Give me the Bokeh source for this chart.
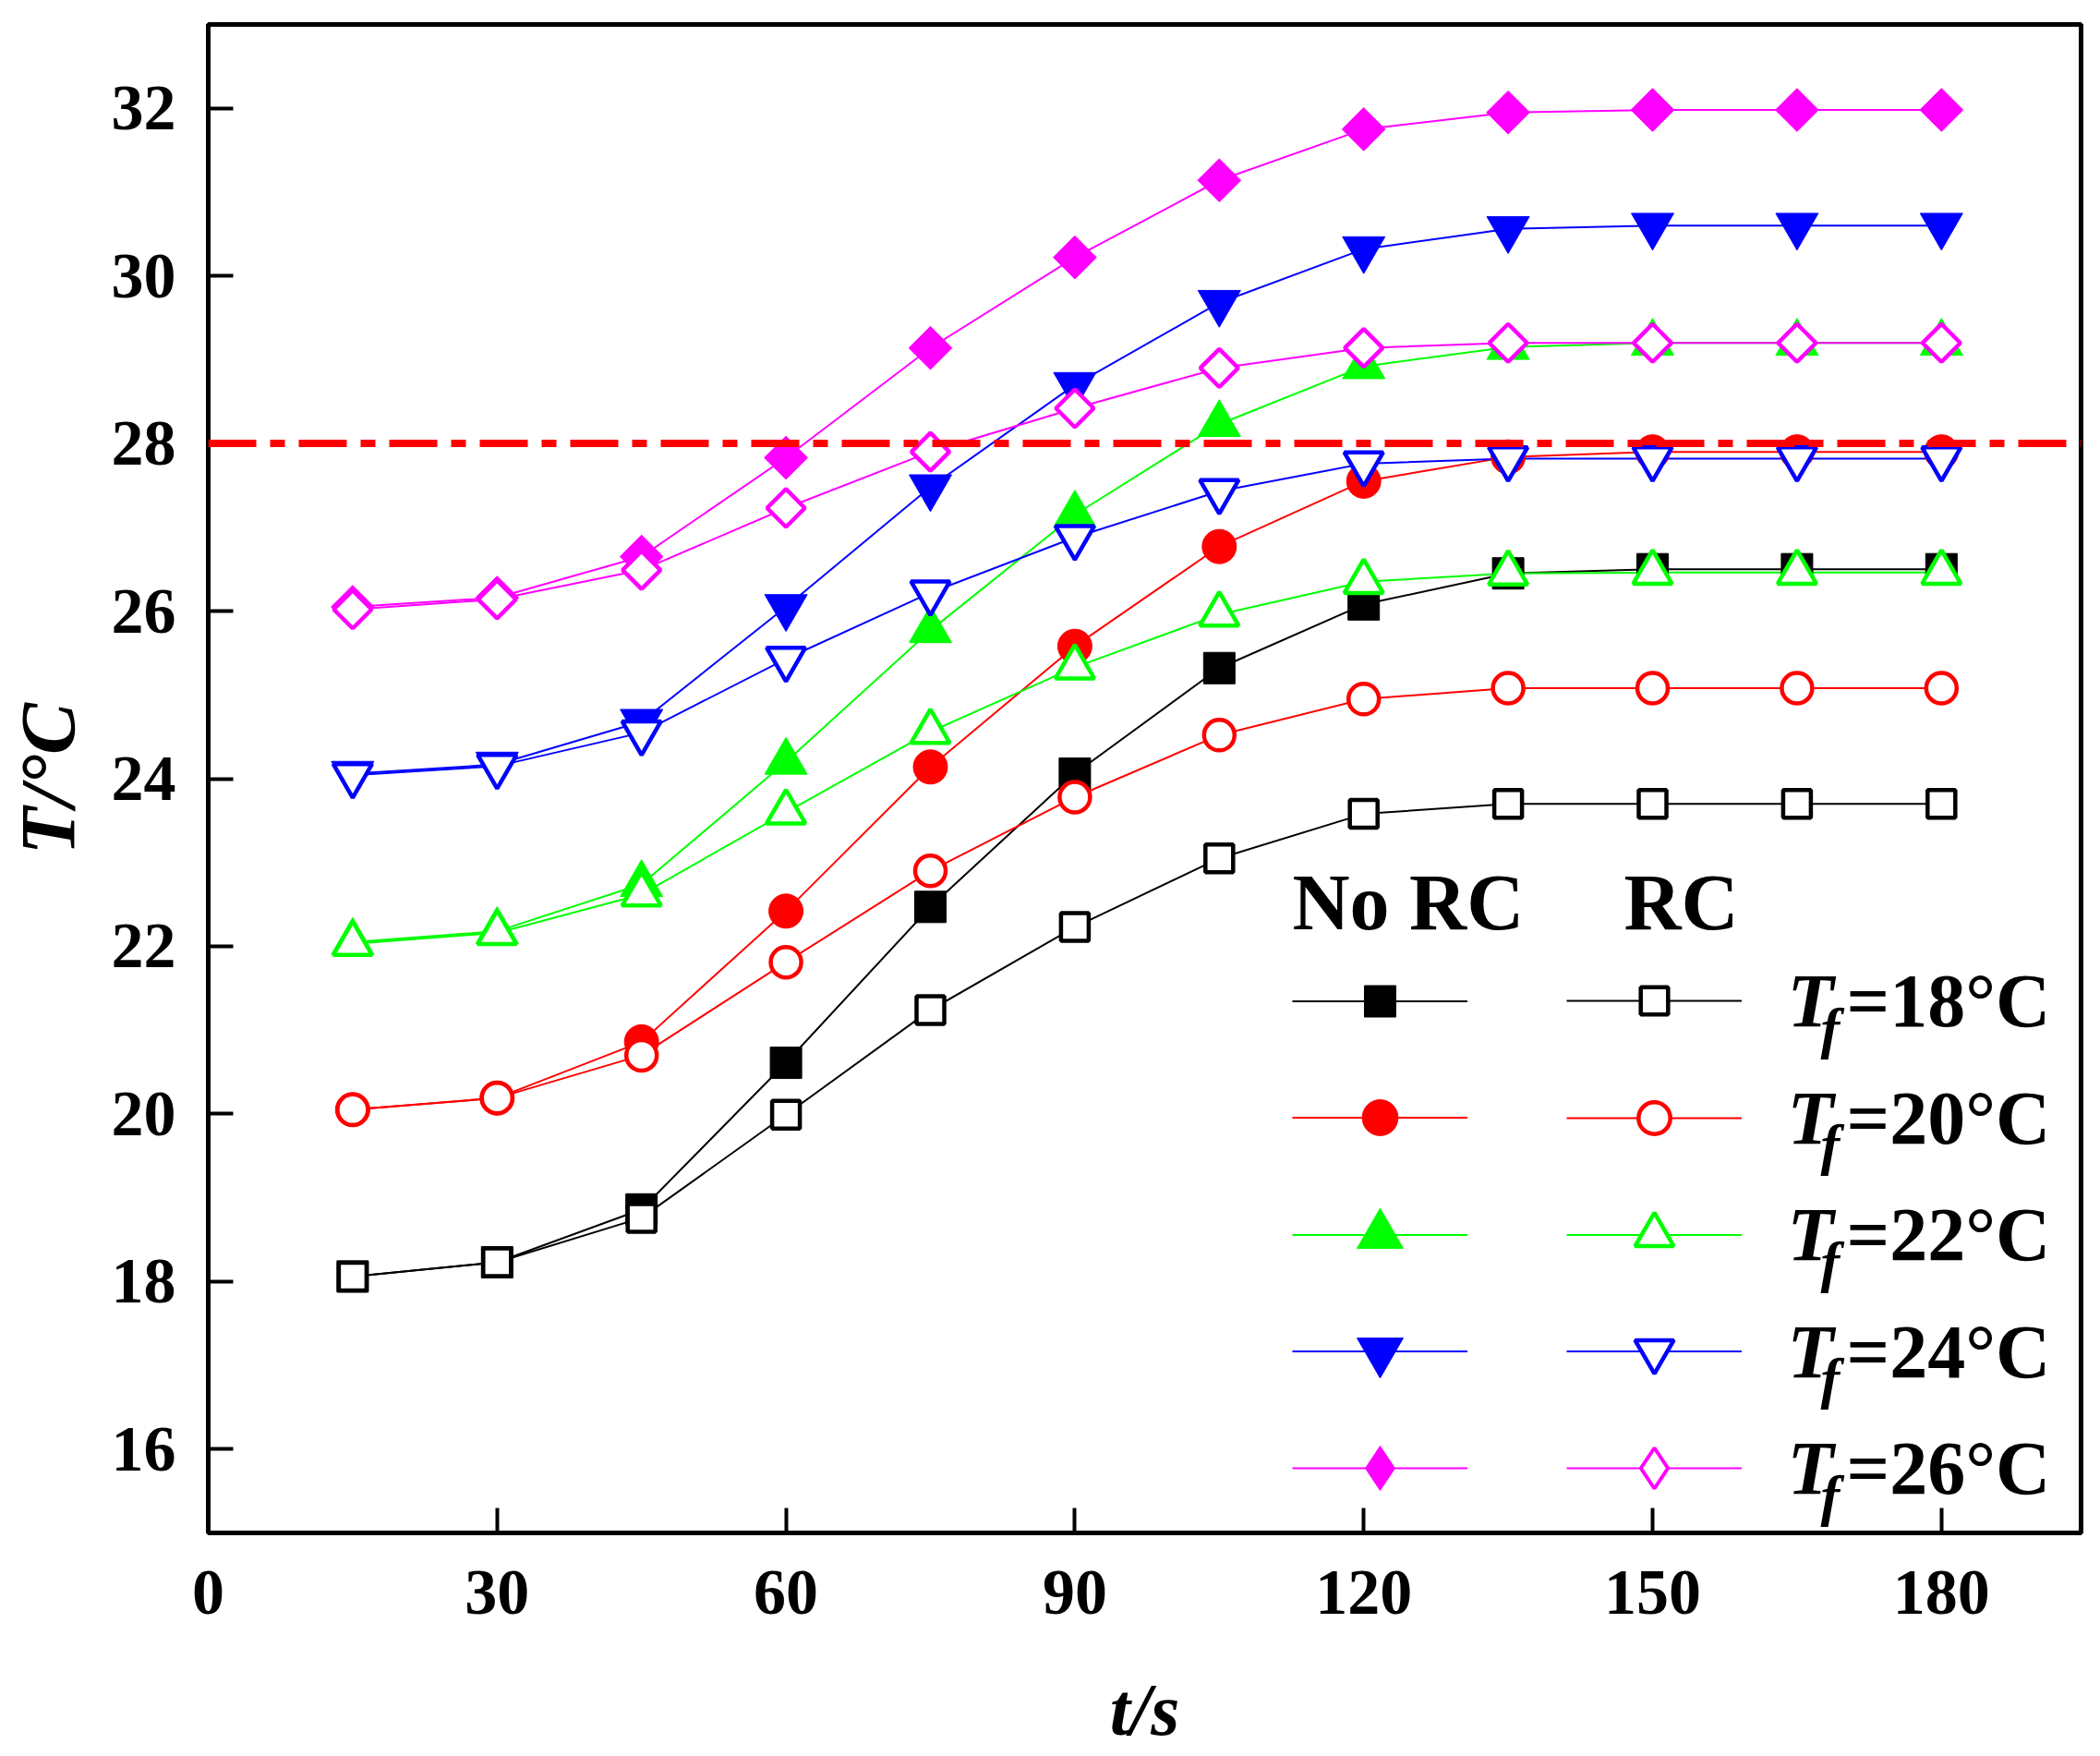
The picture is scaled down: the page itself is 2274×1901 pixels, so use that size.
import math
from bokeh.plotting import figure
from bokeh.models import Span, Label, Legend, LegendItem, FixedTicker, Range1d
from bokeh.core.properties import value
from bokeh.embed import file_html
from bokeh.resources import INLINE

# ---------------- data ----------------
t = [15, 30, 45, 60, 75, 90, 105, 120, 135, 150, 165, 180]
no_rc_18 = [18.06, 18.23, 18.86, 20.61, 22.47, 24.06, 25.32, 26.08, 26.45, 26.5, 26.5, 26.5]
rc_18 = [18.06, 18.23, 18.76, 19.99, 21.24, 22.23, 23.05, 23.58, 23.7, 23.7, 23.7, 23.7]
no_rc_20 = [20.05, 20.19, 20.86, 22.42, 24.14, 25.58, 26.77, 27.55, 27.84, 27.9, 27.9, 27.9]
rc_20 = [20.05, 20.19, 20.7, 21.81, 22.9, 23.78, 24.52, 24.95, 25.08, 25.08, 25.08, 25.08]
no_rc_22 = [22.05, 22.18, 22.74, 24.2, 25.77, 27.15, 28.23, 28.92, 29.15, 29.2, 29.2, 29.2]
rc_22 = [22.03, 22.16, 22.62, 23.6, 24.56, 25.33, 25.96, 26.35, 26.45, 26.46, 26.46, 26.46]
no_rc_24 = [24.06, 24.17, 24.68, 26.05, 27.48, 28.7, 29.68, 30.32, 30.56, 30.6, 30.6, 30.6]
rc_24 = [24.04, 24.15, 24.55, 25.43, 26.22, 26.88, 27.43, 27.76, 27.82, 27.82, 27.82, 27.82]
no_rc_26 = [26.05, 26.16, 26.65, 27.83, 29.14, 30.22, 31.14, 31.75, 31.95, 31.98, 31.98, 31.98]
rc_26 = [26.02, 26.14, 26.49, 27.23, 27.9, 28.42, 28.9, 29.14, 29.2, 29.2, 29.2, 29.2]

tf_labels = ["=18°C", "=20°C", "=22°C", "=24°C", "=26°C"]
threshold = 28
x_ticks = [0, 30, 60, 90, 120, 150, 180]
y_ticks = [16, 18, 20, 22, 24, 26, 28, 30, 32]
x_title = "t/s"
y_title = "T/°C"

# ---------------- styles ----------------
FONT = "Liberation Serif"
MID = 0.3375  # baseline offset of a middle-anchored text, in em
colors = ["#000000", "#FF0000", "#00FF00", "#0000FF", "#FF00FF"]
no_rc = [no_rc_18, no_rc_20, no_rc_22, no_rc_24, no_rc_26]
rc = [rc_18, rc_20, rc_22, rc_24, rc_26]
# marker, angle, filled size, open size, legend marker, legend glyph height filled / open
mstyle = [
    ("square", 0.0, 34, 30, "square", 85, 74),
    ("circle", 0.0, 37, 33, "circle", 97, 86),
    ("triangle", 0.0, 46, 42, "triangle", 125, 105),
    ("inverted_triangle", 0.0, 46, 42, "inverted_triangle", 125, 105),
    ("square", math.pi / 4, 33, 29, "diamond", 120, 110),
]

W, H = 2270, 1897
p = figure(width=W, height=H, x_range=Range1d(0, 194.5), y_range=Range1d(15, 33),
           output_backend="svg", toolbar_location=None,
           min_border_left=225, min_border_right=W - 2253, min_border_top=26,
           min_border_bottom=H - 1662)
p.title.visible = False
p.grid.visible = False
p.background_fill_color = "white"
p.border_fill_color = "white"
p.outline_line_color = "black"
p.outline_line_width = 5
p.outline_line_alpha = 1.0

for ax in (p.xaxis[0], p.yaxis[0]):
    ax.axis_line_width = 5
    ax.axis_line_color = "black"
    ax.major_tick_line_width = 4
    ax.major_tick_line_color = "black"
    ax.major_tick_in = 27
    ax.major_tick_out = 0
    ax.minor_tick_line_color = None
    ax.major_label_text_font = FONT
    ax.major_label_text_font_style = "bold"
    ax.major_label_text_font_size = "70px"
    ax.major_label_text_color = "black"
    ax.axis_label_text_font = FONT
    ax.axis_label_text_font_style = "bold italic"
    ax.axis_label_text_color = "black"
p.xaxis.ticker = FixedTicker(ticks=x_ticks)
p.yaxis.ticker = FixedTicker(ticks=y_ticks)
p.xaxis.major_label_standoff = 41
p.yaxis.major_label_standoff = 35
p.xaxis.axis_label = x_title
p.xaxis.axis_label_text_font_size = "80px"
p.xaxis.axis_label_standoff = 57
p.yaxis.axis_label = y_title
p.yaxis.axis_label_text_font_size = "84px"
p.yaxis.axis_label_standoff = 19

p.add_layout(Span(location=threshold, dimension="width", line_color="#FF0000",
                  line_width=8, line_dash="52 15 16 15"))

line_r = {}
for i in range(5):
    line_r[("f", i)] = p.line(t, no_rc[i], line_color=colors[i], line_width=2)
    line_r[("o", i)] = p.line(t, rc[i], line_color=colors[i], line_width=2)

scat_r = {}
for i in range(5):
    m, ang, sf, so, lm, hf, ho = mstyle[i]
    scat_r[("f", i)] = p.scatter(t, no_rc[i], marker=m, angle=ang, size=sf,
                                 fill_color=colors[i], line_color=colors[i], line_width=1)
for i in range(5):
    m, ang, sf, so, lm, hf, ho = mstyle[i]
    scat_r[("o", i)] = p.scatter(t, rc[i], marker=m, angle=ang, size=so,
                                 fill_color="white", line_color=colors[i], line_width=4.5)

# ---------------- legend ----------------
LEG_X_NO, LEG_X_RC = 1174, 1471
ROW0, PITCH = 576, 126.5


def add_leg(rs, x, cy, h):
    leg = Legend(items=[LegendItem(label=value(" "), renderers=rs)],
                 location=(x, cy - h / 2), glyph_width=190, glyph_height=h,
                 padding=0, margin=0, spacing=0, label_standoff=0,
                 label_width=1, label_height=1, label_text_font_size="1px",
                 border_line_alpha=0, background_fill_alpha=0)
    p.add_layout(leg)


def add_text(x, baseline, text, size, style):
    # position is given by the text's baseline; the label is anchored at its middle
    p.add_layout(Label(x=x, y=baseline + MID * size, x_units="screen", y_units="screen",
                       text=text, text_font=FONT, text_font_style=style,
                       text_font_size=f"{size}px", text_color="black",
                       text_align="left", text_baseline="middle"))


for i in range(5):
    cy = ROW0 - PITCH * i
    m, ang, sf, so, lm, hf, ho = mstyle[i]
    if lm != m:
        # legend proxies (zero-size markers of the same series) drawn as diamonds in the key
        leg_f = p.scatter(t, no_rc[i], marker=lm, size=0, fill_color=colors[i],
                          line_color=colors[i], line_width=1)
        leg_o = p.scatter(t, rc[i], marker=lm, size=0, fill_color="white",
                          line_color=colors[i], line_width=4)
    else:
        leg_f, leg_o = scat_r[("f", i)], scat_r[("o", i)]
    add_leg([line_r[("f", i)], leg_f], LEG_X_NO, cy, hf)
    add_leg([line_r[("o", i)], leg_o], LEG_X_RC, cy, ho)
    base = cy - 28
    add_text(1710, base, "T", 82, "bold italic")
    add_text(1746, base - 22, "f", 62, "bold italic")
    add_text(1774, base, tf_labels[i], 82, "bold")

add_text(1174, 653, "No RC", 86, "bold")
add_text(1533, 653, "RC", 86, "bold")

open("out.html", "w").write(file_html(p, INLINE))
